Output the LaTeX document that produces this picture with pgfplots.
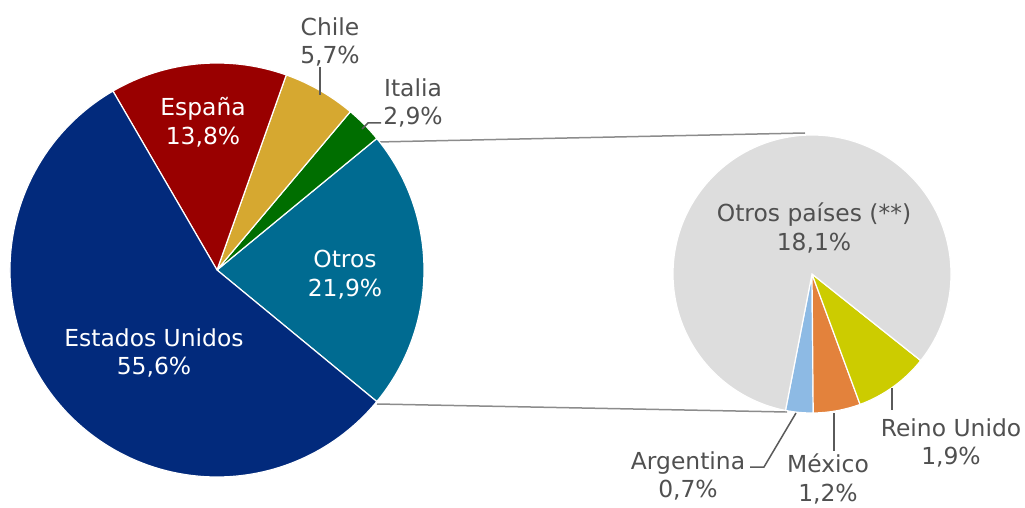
\documentclass[border=0pt]{standalone}
\usepackage{pgfplots}
\pgfplotsset{compat=1.18}
\usepackage{fontspec}
\setmainfont{DejaVu Sans}
\definecolor{cEEUU}{RGB}{2,42,124}
\definecolor{cEsp}{RGB}{153,0,0}
\definecolor{cChile}{RGB}{214,168,48}
\definecolor{cItalia}{RGB}{0,110,0}
\definecolor{cOtros}{RGB}{0,107,145}
\definecolor{cOP}{RGB}{221,221,221}
\definecolor{cArg}{RGB}{141,186,228}
\definecolor{cMex}{RGB}{227,130,60}
\definecolor{cRU}{RGB}{204,204,0}
\definecolor{txt}{RGB}{80,80,80}
\definecolor{lead}{RGB}{90,90,90}
% data (percent)
\def\vOtros{21.9}\def\vItalia{2.9}\def\vChile{5.7}\def\vEsp{13.8}\def\vEEUU{55.6}
\def\vArg{0.7}\def\vMex{1.2}\def\vRU{1.9}\def\vOP{18.1}
% main pie angles
\pgfmathsetmacro\sumA{\vOtros+\vItalia+\vChile+\vEsp+\vEEUU}
\pgfmathsetmacro\aO{-\vOtros/\sumA*180}
\pgfmathsetmacro\aI{\aO+\vOtros/\sumA*360}
\pgfmathsetmacro\aC{\aI+\vItalia/\sumA*360}
\pgfmathsetmacro\aE{\aC+\vChile/\sumA*360}
\pgfmathsetmacro\aU{\aE+\vEsp/\sumA*360}
\pgfmathsetmacro\aEnd{\aU+\vEEUU/\sumA*360}
% second pie angles
\pgfmathsetmacro\sumB{\vArg+\vMex+\vRU+\vOP}
\pgfmathsetmacro\bA{259}
\pgfmathsetmacro\bM{\bA+\vArg/\sumB*360}
\pgfmathsetmacro\bR{\bM+\vMex/\sumB*360}
\pgfmathsetmacro\bO{\bR+\vRU/\sumB*360}
\pgfmathsetmacro\bEnd{\bO+\vOP/\sumB*360}
\newcommand{\slice}[6]{%
  \fill[#6, draw=white, line width=1.2bp] (axis cs:#1,#2) -- ++(#4:#3) arc[start angle=#4, end angle=#5, radius=#3] -- cycle;}
\begin{document}
\begin{tikzpicture}
\begin{axis}[x=1bp, y=1bp, y dir=reverse, xmin=0, xmax=1025, ymin=0, ymax=508,
  hide axis, clip=false, scale only axis]
\coordinate (TL) at (axis cs:0,0);
\coordinate (BR) at (axis cs:1025,508);
% connectors
\draw[gray!90, line width=1.5bp] (axis cs:377,142) -- (axis cs:805,133);
\draw[gray!90, line width=1.5bp] (axis cs:377,404) -- (axis cs:787,412);
% main pie
\slice{217}{270}{207bp}{\aO}{\aI}{cOtros}
\slice{217}{270}{207bp}{\aI}{\aC}{cItalia}
\slice{217}{270}{207bp}{\aC}{\aE}{cChile}
\slice{217}{270}{207bp}{\aE}{\aU}{cEsp}
\slice{217}{270}{207bp}{\aU}{\aEnd}{cEEUU}
% second pie
\slice{812}{274}{139bp}{\bA}{\bM}{cArg}
\slice{812}{274}{139bp}{\bM}{\bR}{cMex}
\slice{812}{274}{139bp}{\bR}{\bO}{cRU}
\slice{812}{274}{139bp}{\bO}{\bEnd}{cOP}
% leader lines
\draw[lead, line width=1.5bp] (axis cs:320,67) -- (axis cs:320,95);
\draw[lead, line width=1.5bp] (axis cs:362,129) -- (axis cs:368,123) -- (axis cs:381,123);
\draw[lead, line width=1.5bp] (axis cs:892,388) -- (axis cs:892,410);
\draw[lead, line width=1.5bp] (axis cs:834,413) -- (axis cs:834,451);
\draw[lead, line width=1.5bp] (axis cs:796,413) -- (axis cs:764,467) -- (axis cs:750,467);
% labels
\tikzset{lbl/.style={align=center, inner sep=0pt, font=\fontsize{23.5}{29}\selectfont}}
\node[lbl, white] at (axis cs:203,122) {España\\13,8\%};
\node[lbl, white] at (axis cs:345,275) {Otros\\21,9\%};
\node[lbl, white] at (axis cs:154,353) {Estados Unidos\\55,6\%};
\node[lbl, txt] at (axis cs:330,42) {Chile\\5,7\%};
\node[lbl, txt] at (axis cs:413,103) {Italia\\2,9\%};
\node[lbl, txt] at (axis cs:814,228) {Otros países (**)\\18,1\%};
\node[lbl, txt] at (axis cs:951,443) {Reino Unido\\1,9\%};
\node[lbl, txt] at (axis cs:828,479) {México\\1,2\%};
\node[lbl, txt] at (axis cs:688,476) {Argentina\\0,7\%};
\end{axis}
\pgfresetboundingbox
\path[use as bounding box] (TL) rectangle (BR);
\end{tikzpicture}
\end{document}
